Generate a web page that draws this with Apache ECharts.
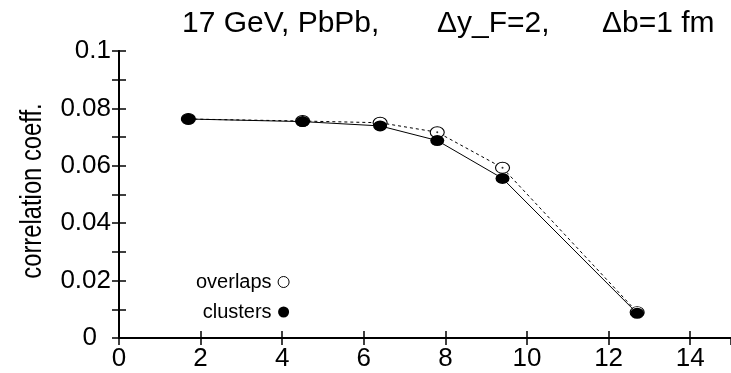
<!DOCTYPE html>
<html lang="en">
<head>
    <meta charset="UTF-8">
    <script src="https://cdn.jsdelivr.net/npm/echarts@6/dist/echarts.min.js"></script>
    <title>correlation coeff.</title>
</head>
<body style="margin:0;background:#fff;">
<div id="main" style="width:731px;height:373px;"></div>
<script type="text/javascript">
    // data
    var x_vals = [1.7, 4.5, 6.4, 7.8, 9.4, 12.7];
    var overlaps = [0.0763, 0.0756, 0.0750, 0.0717, 0.0593, 0.0090];
    var clusters = [0.0763, 0.0754, 0.0739, 0.0688, 0.0556, 0.0086];
    var title_parts = ['17 GeV, PbPb,', '\u0394y_F=2,', '\u0394b=1 fm'];
    var y_name = 'correlation coeff.';

    function pairs(xs, ys) {
        var out = [];
        for (var i = 0; i < xs.length; i++) {
            out.push([xs[i], ys[i]]);
        }
        return out;
    }

    var sans = '"Liberation Sans", Arial, sans-serif';
    var titleStyle = {fontFamily: sans, fontSize: 30, fontWeight: 'normal', color: '#000'};

    var myChart = echarts.init(document.getElementById('main'));

    var tickStyle = {show: true, inside: true, length: 7, lineStyle: {color: '#000', width: 1.5}};
    var lineStyle = {show: true, lineStyle: {color: '#000', width: 2}};

    var option = {
        animation: false,
        title: [
            {text: title_parts[0], left: 177, top: 4, textStyle: titleStyle},
            {text: title_parts[1], left: 432, top: 4, textStyle: titleStyle},
            {text: title_parts[2], left: 597, top: 4, textStyle: titleStyle}
        ],
        // axis name, a bit condensed like the original
        graphic: [{
            type: 'text',
            x: 33,
            y: 191,
            rotation: Math.PI / 2,
            scaleX: 0.82,
            style: {
                text: y_name,
                font: '29px "Liberation Sans", Arial, sans-serif',
                fill: '#000',
                align: 'center',
                verticalAlign: 'middle'
            }
        }],
        legend: {
            orient: 'vertical',
            left: 191,
            top: 266,
            align: 'right',
            itemGap: 8,
            itemWidth: 14,
            itemHeight: 11,
            selectedMode: false,
            textStyle: {fontFamily: sans, fontSize: 20, color: '#000', lineHeight: 22},
            data: [
                {name: 'overlaps', icon: 'circle', itemStyle: {color: '#fff', borderColor: '#000', borderWidth: 1}},
                {name: 'clusters', icon: 'circle', itemStyle: {color: '#000'}}
            ]
        },
        grid: {left: 119, right: -4, top: 51, bottom: 35},
        xAxis: [
            {
                type: 'value', min: 0, max: 15, interval: 2,
                axisLine: lineStyle, axisTick: tickStyle, splitLine: {show: false},
                axisLabel: {showMaxLabel: false, margin: 8, fontFamily: sans, fontSize: 26, color: '#000'}
            },
            {
                type: 'value', position: 'top', min: 0, max: 15, interval: 2,
                axisLine: lineStyle, axisTick: tickStyle, splitLine: {show: false},
                axisLabel: {show: false}
            }
        ],
        yAxis: [
            {
                type: 'value', min: 0, max: 0.1, interval: 0.01,
                axisLine: lineStyle, axisTick: tickStyle, splitLine: {show: false},
                axisLabel: {
                    margin: 8, fontFamily: sans, fontSize: 26, color: '#000',
                    formatter: function (v) {
                        var k = Math.round(v * 100);
                        if (k % 2 !== 0) return '';
                        if (k === 0) return '{z|0}';
                        return k === 10 ? '0.1' : (k / 100).toFixed(2);
                    },
                    rich: {
                        z: {fontFamily: sans, fontSize: 26, color: '#000', padding: [0, 14, 0, 0]}
                    }
                }
            },
            {
                type: 'value', position: 'right', min: 0, max: 0.1, interval: 0.01,
                axisLine: lineStyle, axisTick: tickStyle, splitLine: {show: false},
                axisLabel: {show: false}
            }
        ],
        series: [
            {
                name: 'overlaps',
                type: 'line',
                data: pairs(x_vals, overlaps),
                symbol: 'circle',
                symbolSize: [14, 11],
                itemStyle: {color: '#fff', borderColor: '#000', borderWidth: 1},
                lineStyle: {color: '#000', width: 1, type: [3, 3]},
                z: 2
            },
            {
                name: 'overlaps-dot',
                type: 'scatter',
                data: pairs(x_vals, overlaps),
                symbol: 'circle',
                symbolSize: 2,
                itemStyle: {color: '#000'},
                z: 3
            },
            {
                name: 'clusters',
                type: 'line',
                data: pairs(x_vals, clusters),
                symbol: 'circle',
                symbolSize: [14, 11],
                itemStyle: {color: '#000'},
                lineStyle: {color: '#000', width: 1},
                z: 4
            }
        ]
    };
    myChart.setOption(option);
</script>
</body>
</html>
